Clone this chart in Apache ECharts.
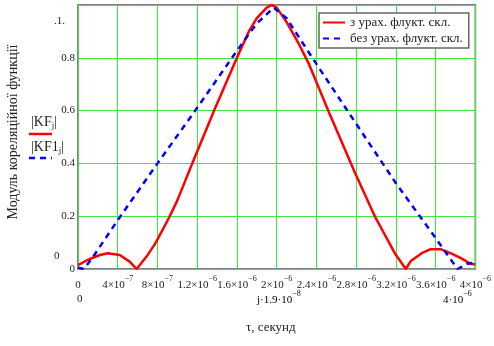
<!DOCTYPE html>
<html>
<head>
<meta charset="utf-8">
<script src="https://cdn.jsdelivr.net/npm/echarts@6/dist/echarts.min.js"></script>
<style>
  html, body { margin: 0; padding: 0; background: #fff; }
  #main { width: 494px; height: 346px; }
</style>
</head>
<body>
<div id="main"></div>
<script>
  // час, мкс (на графіку в секундах)
  var tRed = [0, 0.1, 0.22, 0.3, 0.42, 0.52, 0.59, 0.69, 0.78, 0.92, 1.0, 1.15, 1.37, 1.6, 1.72, 1.8, 1.9, 1.95, 2.0, 2.1, 2.22, 2.32, 2.53, 2.79, 2.99, 3.19, 3.3, 3.35, 3.46, 3.55, 3.65, 3.75, 3.85, 3.95, 4.0];
  var kf = [0.015, 0.035, 0.053, 0.06, 0.053, 0.028, 0.0, 0.047, 0.098, 0.197, 0.26, 0.4, 0.6, 0.8, 0.9, 0.95, 0.99, 1.0, 0.99, 0.935, 0.855, 0.78, 0.59, 0.363, 0.198, 0.059, 0.0, 0.03, 0.06, 0.075, 0.075, 0.06, 0.042, 0.02, 0.017];

  var tBlue = [0, 0.06, 0.15, 0.4, 0.8, 1.18, 1.55, 1.72, 1.8, 1.97, 2.1, 2.22, 2.42, 2.8, 3.2, 3.6, 3.82, 3.92, 4.0];
  var kf1 = [0.005, 0.0, 0.045, 0.185, 0.4, 0.6, 0.8, 0.89, 0.93, 0.99, 0.95, 0.88, 0.765, 0.55, 0.325, 0.117, 0.0, 0.02, 0.025];

  // підписи осі x: [мантиса, показник]
  var xTicks = [['0', ''], ['4×10', '−7'], ['8×10', '−7'], ['1.2×10', '−6'], ['1.6×10', '−6'], ['2×10', '−6'],
                ['2.4×10', '−6'], ['2.8×10', '−6'], ['3.2×10', '−6'], ['3.6×10', '−6'], ['4×10', '−6']];
  var yTicks = ['0', '0.2', '0.4', '0.6', '0.8', ''];
  var seriesNames = ['з урах. флукт. скл.', 'без урах. флукт. скл.'];

  function pairs(t, v) {
    return t.map(function (x, i) { return [x * 1e-6, v[i]]; });
  }

  var font = 'Liberation Serif, Times New Roman, serif';
  var rich = {
    b: { fontSize: 11, fontFamily: font, color: '#222', lineHeight: 16, verticalAlign: 'bottom' },
    s: { fontSize: 8, fontFamily: font, color: '#222', lineHeight: 9, verticalAlign: 'top' },
    j: { fontSize: 11, fontFamily: font, color: '#7a1a6a', lineHeight: 16, verticalAlign: 'bottom' }
  };
  var subRich = { s: { fontSize: 9, fontFamily: font, color: '#222', verticalAlign: 'bottom', padding: [7, 0, 0, 0] } };

  var myChart = echarts.init(document.getElementById('main'));
  var option = {
    animation: false,
    backgroundColor: '#fff',
    grid: {
      left: 78, top: 5, width: 400, height: 264,
      show: true, borderColor: '#555', borderWidth: 1.5
    },
    legend: {
      orient: 'vertical',
      left: 319, top: 13,
      padding: [3, 6, 3, 3],
      itemGap: 3,
      itemWidth: 22,
      itemHeight: 12,
      borderColor: '#666',
      borderWidth: 1.5,
      backgroundColor: '#fff',
      itemStyle: { opacity: 0 },
      textStyle: { fontFamily: font, fontSize: 13, color: '#222' },
      data: seriesNames
    },
    xAxis: {
      type: 'value',
      min: 0, max: 4e-6, interval: 4e-7,
      axisLine: { show: false },
      axisTick: { show: false },
      splitLine: { lineStyle: { color: '#3be83b', width: 1 } },
      axisLabel: {
        margin: 6,
        hideOverlap: false,
        showMinLabel: true, showMaxLabel: true,
        formatter: function (v, i) {
          var t = xTicks[i];
          if (!t) return '';
          return t[1] ? '{b|' + t[0] + '}{s|' + t[1] + '}' : '{b|' + t[0] + '}';
        },
        rich: rich
      }
    },
    yAxis: {
      type: 'value',
      min: 0, max: 1, interval: 0.2,
      axisLine: { show: false },
      axisTick: { show: false },
      splitLine: { lineStyle: { color: '#3be83b', width: 1 } },
      axisLabel: {
        margin: 3,
        fontFamily: font, fontSize: 11, color: '#222',
        formatter: function (v, i) { return yTicks[i] || ''; }
      }
    },
    series: [{
      name: seriesNames[0],
      type: 'line',
      symbol: 'none',
      z: 3,
      lineStyle: { color: '#ff0000', width: 2.5 },
      itemStyle: { color: '#ff0000' },
      data: pairs(tRed, kf)
    }, {
      name: seriesNames[1],
      type: 'line',
      symbol: 'none',
      z: 4,
      lineStyle: { color: '#0000ff', width: 2.5, type: [6, 5] },
      itemStyle: { color: '#0000ff' },
      data: pairs(tBlue, kf1)
    }],
    graphic: [
      { type: 'text', left: 54, top: 16, style: { text: '.1.', font: '11px ' + font, fill: '#222' } },
      { type: 'text', left: 54, top: 251, style: { text: '0', font: '11px ' + font, fill: '#222' } },
      { type: 'text', left: 77, top: 294, style: { text: '0', font: '11px ' + font, fill: '#222' } },
      { type: 'text', left: 257, top: 290, style: { text: '{j|j}{b|·1.9·10}{s|−8}', rich: rich } },
      { type: 'text', left: 443, top: 290, style: { text: '{b|4·10}{s|−6}', rich: rich } },
      { type: 'text', left: 246, top: 321, style: { text: 'τ, секунд', font: '13px ' + font, fill: '#222' } },
      {
        type: 'text', x: 13, y: 132, rotation: Math.PI / 2,
        style: { text: 'Модуль кореляційної функції', font: '14px ' + font, fill: '#222', align: 'center', verticalAlign: 'middle' }
      },
      { type: 'text', left: 31, top: 115, style: { text: '|KF{s|j}|', font: '14px ' + font, fill: '#222', rich: subRich } },
      { type: 'line', shape: { x1: 29, y1: 134, x2: 52, y2: 134 }, style: { stroke: '#ff0000', lineWidth: 2.5 } },
      { type: 'text', left: 31, top: 140, style: { text: '|KF1{s|j}|', font: '14px ' + font, fill: '#222', rich: subRich } },
      { type: 'line', shape: { x1: 29, y1: 158, x2: 52, y2: 158 }, style: { stroke: '#0000ff', lineWidth: 2.5, lineDash: [6, 5] } }
    ]
  };
  myChart.setOption(option);
</script>
</body>
</html>
